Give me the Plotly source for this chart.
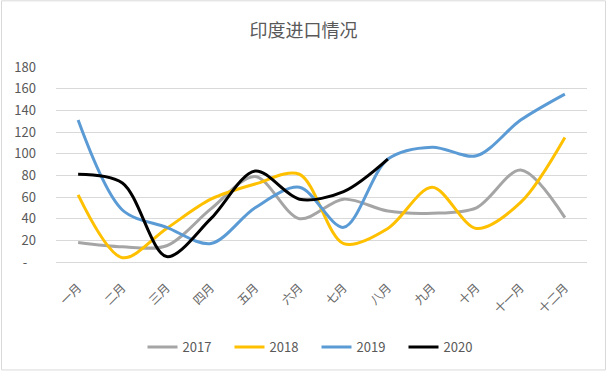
import plotly.graph_objects as go

months = ["一月", "二月", "三月", "四月", "五月", "六月", "七月", "八月", "九月", "十月", "十一月", "十二月"]
s2017 = [18, 14, 15, 49, 79, 40, 58, 47, 45, 50, 85, 41]
s2018 = [62, 4, 31, 58, 72, 81, 17, 31, 69, 31, 55, 115]
s2019 = [131, 48, 32, 17, 50, 69, 32, 95, 106, 98, 131, 155]
s2020 = [81, 73, 5, 40, 84, 58, 65, 95]
series = [("2017", s2017, "#A5A5A5"), ("2018", s2018, "#FFC000"),
          ("2019", s2019, "#5B9BD5"), ("2020", s2020, "#000000")]
ytickvals = [0, 20, 40, 60, 80, 100, 120, 140, 160, 180]
yticktext = ["-\u00a0\u00a0\u00a0", "20", "40", "60", "80", "100", "120", "140", "160", "180"]

FONT = "Noto Sans CJK SC, Liberation Sans, sans-serif"
fig = go.Figure()
for name, vals, color in series:
    fig.add_trace(go.Scatter(
        x=months[:len(vals)], y=vals, name=name, mode="lines",
        line=dict(color=color, width=3, shape="spline", smoothing=0.9),
    ))

W, H = 607, 373
L, R, T, B = 56, 20, 67, 110
pw, ph = W - L - R, H - T - B
fig.update_layout(
    width=W, height=H,
    margin=dict(l=L, r=R, t=T, b=B),
    paper_bgcolor="white", plot_bgcolor="white",
    font=dict(family=FONT, color="#595959", size=12),
    title=dict(text="印度进口情况", x=0.5, xanchor="center", y=1 - 31 / H, yanchor="middle",
               font=dict(size=18, color="#595959", family=FONT)),
    xaxis=dict(type="category", categoryorder="array", categoryarray=months,
               range=[-0.5, 11.5], tickangle=-45, showgrid=False,
               showline=True, linecolor="#D9D9D9", linewidth=1, ticks="",
               ticklabelstandoff=13, automargin=False,
               tickfont=dict(size=12, color="#666666")),
    yaxis=dict(range=[0, 180], tickvals=ytickvals, ticktext=yticktext,
               showgrid=True, gridcolor="#D9D9D9", gridwidth=1, zeroline=False,
               showline=False, ticks="", ticklabelstandoff=19, automargin=False,
               tickfont=dict(size=13, color="#595959")),
    legend=dict(orientation="h", x=0.5 - 5 / pw, xanchor="center", y=-(347 - (T + ph)) / ph,
                yanchor="middle", font=dict(size=13, color="#595959"),
                itemwidth=30, entrywidth=42, entrywidthmode="pixels",
                traceorder="normal"),
    showlegend=True,
    shapes=[dict(type="rect", xref="paper", yref="paper",
                 x0=-(L - 1.5) / pw, x1=1 + (R - 1.5) / pw,
                 y0=-(B - 1.5) / ph, y1=1 + (T - 0.5) / ph,
                 line=dict(color="#D9D9D9", width=1), layer="below")],
)
fig.write_html("out.html", config={"displayModeBar": False},
               post_script="document.body.style.margin='0';document.body.style.overflow='hidden';")
